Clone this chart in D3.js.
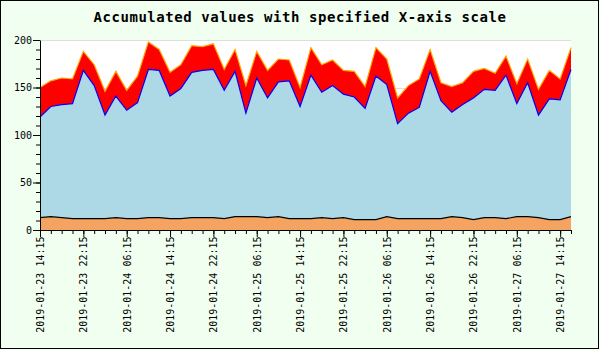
<!DOCTYPE html>
<html><head><meta charset="utf-8">
<script src="https://cdn.jsdelivr.net/npm/d3@7"></script>
<style>body{margin:0;background:#fff}svg{display:block}</style>
</head><body>
<svg id="c" width="600" height="350"></svg>
<script>
// ---- data ----
const startTime = "2019-01-23 14:15";
const stepHours = 2;
const seriesOrange = [13,14,13,12,12,12,12,13,12,12,13,13,12,12,13,13,13,12,14,14,14,13,14,12,12,12,13,12,13,11,11,11,14,12,12,12,12,12,14,13,11,13,13,12,14,14,13,11,11,14];
const seriesBlue = [106,116,119,121,156,140,109,128,114,122,156,155,129,137,153,155,156,135,153,109,146,126,142,145,118,151,132,140,130,129,117,151,139,100,111,117,155,124,110,119,128,135,134,151,119,141,108,127,126,155];
const seriesRed = [31,27,28,26,20,22,25,26,21,28,29,22,25,25,28,25,27,22,23,29,28,29,24,22,20,29,29,27,25,27,23,30,27,27,29,30,23,19,27,23,28,22,18,20,21,25,27,30,22,23];
const yTicks = [0,50,100,150,200];
const xTickLabels = ["2019-01-23 14:15","2019-01-23 22:15","2019-01-24 06:15","2019-01-24 14:15","2019-01-24 22:15","2019-01-25 06:15","2019-01-25 14:15","2019-01-25 22:15","2019-01-26 06:15","2019-01-26 14:15","2019-01-26 22:15","2019-01-27 06:15","2019-01-27 14:15"];
const title = "Accumulated values with specified X-axis scale";

// ---- build ----
const parse = d3.utcParse("%Y-%m-%d %H:%M");
const fmt = d3.utcFormat("%Y-%m-%d %H:%M");
const t0 = parse(startTime);
const rows = seriesOrange.map((v,i)=>({t:d3.utcHour.offset(t0, i*stepHours), a:v, b:seriesBlue[i], c:seriesRed[i]}));
const stacked = d3.stack().keys(["a","b","c"])(rows);

const svg = d3.select("#c");
const font = "'DejaVu Sans Mono', monospace";
svg.append("rect").attr("x",0).attr("y",0).attr("width",600).attr("height",350).attr("fill","#f0fff0");
svg.append("rect").attr("x",0.5).attr("y",0.5).attr("width",598).attr("height",348).attr("fill","none").attr("stroke","#000");

const L=40,R=571,T=40,B=230;
const x = d3.scaleUtc().domain([rows[0].t, rows[rows.length-1].t]).range([L,R]);
const y = d3.scaleLinear().domain([0,200]).range([B,T]);

svg.append("rect").attr("x",L).attr("y",T).attr("width",R-L).attr("height",B-T).attr("fill","#fff");

// grid
svg.append("g").selectAll("line").data(yTicks.filter(d=>d>0)).join("line")
  .attr("x1",L).attr("x2",R).attr("y1",d=>Math.round(y(d))+0.5).attr("y2",d=>Math.round(y(d))+0.5)
  .attr("stroke","#dddddd");

const fills = ["#f4a460","#add8e6","#ff0000"];
const strokes = ["#000000","#0000ff","#ffa500"];
const area = d3.area().x(d=>x(d.data.t)).y0(d=>y(d[0])).y1(d=>y(d[1]));
const line = d3.line().x(d=>x(d.data.t)).y(d=>y(d[1]));
svg.append("g").selectAll("path").data(stacked).join("path")
  .attr("d",area).attr("fill",(d,i)=>fills[i]);
svg.append("g").selectAll("path").data(stacked).join("path")
  .attr("d",line).attr("fill","none").attr("stroke",(d,i)=>strokes[i]).attr("stroke-width",1.2);

// y axis
const yMinor = d3.range(0,201,10);
svg.append("g").attr("transform",`translate(${L},0)`)
  .call(d3.axisLeft(y).tickValues(yMinor).tickSize(4).tickFormat(""))
  .call(g=>g.select(".domain").remove())
  .selectAll("line").attr("stroke","#000");
const yAx = svg.append("g").attr("transform",`translate(${L},0)`)
  .call(d3.axisLeft(y).tickValues(yTicks).tickSize(7).tickPadding(1).tickSizeOuter(0));
yAx.selectAll("text").attr("font-family",font).attr("font-size",10).attr("fill","#000");
yAx.selectAll("line,path").attr("stroke","#000");

// x axis
const xMinor = rows.map(r=>r.t);
svg.append("g").attr("transform",`translate(0,${B})`)
  .call(d3.axisBottom(x).tickValues(xMinor).tickSize(4).tickFormat(""))
  .call(g=>g.select(".domain").remove())
  .selectAll("line").attr("stroke","#000");
const xAx = svg.append("g").attr("transform",`translate(0,${B})`)
  .call(d3.axisBottom(x).tickValues(xTickLabels.map(parse)).tickSize(7).tickSizeOuter(0).tickFormat(fmt));
xAx.selectAll("line,path").attr("stroke","#000");
xAx.selectAll("text").attr("font-family",font).attr("font-size",10).attr("fill","#000")
  .attr("transform","rotate(-90)").attr("text-anchor","end").attr("x",-6.5).attr("y",0).attr("dy","0.35em");

// title
svg.append("text").attr("x",300).attr("y",22).attr("text-anchor","middle")
  .attr("font-family",font).attr("font-weight","bold").attr("font-size",14).attr("letter-spacing",0.55)
  .text(title);
</script>
</body></html>
